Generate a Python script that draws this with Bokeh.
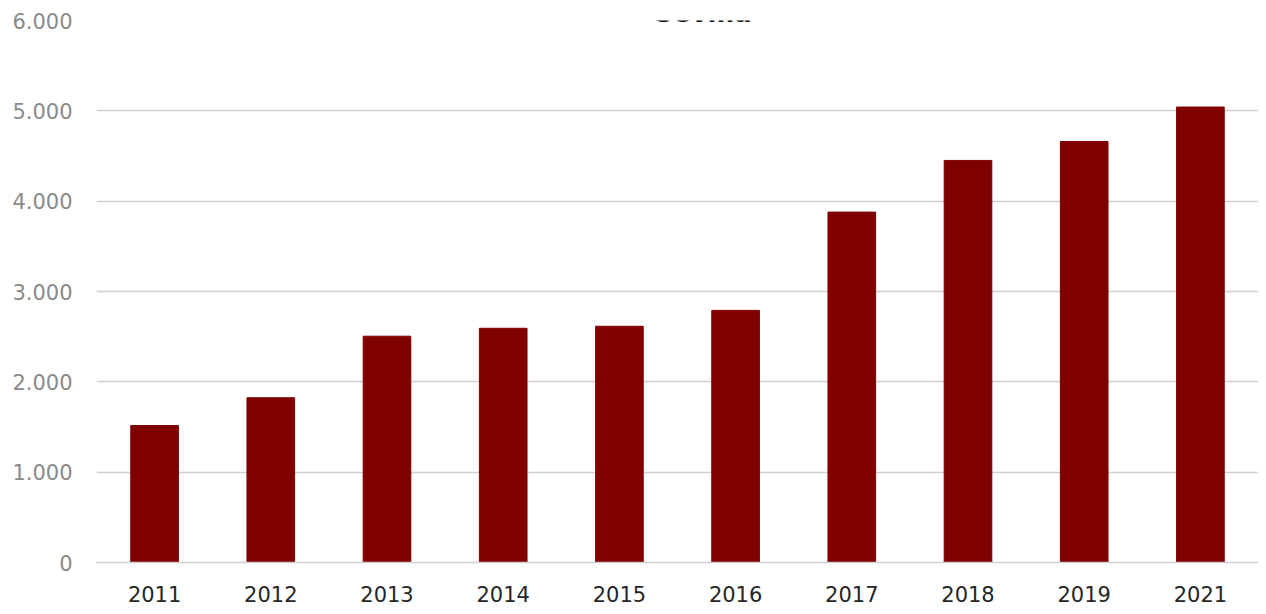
from bokeh.plotting import figure
from bokeh.models import FactorRange, Range1d, FixedTicker, CustomJSTickFormatter, Label
from bokeh.embed import file_html
from bokeh.resources import INLINE

title_text = "Sevilla"
years = ["2011", "2012", "2013", "2014", "2015", "2016", "2017", "2018", "2019", "2021"]
values = [1516, 1824, 2505, 2593, 2615, 2791, 3879, 4451, 4661, 5042]
y_ticks = [0, 1000, 2000, 3000, 4000, 5000, 6000]

p = figure(width=1258, height=606, output_backend="svg", toolbar_location=None,
           x_range=FactorRange(*years, range_padding=0), y_range=Range1d(0, 6000),
           min_border_left=96, min_border_right=0, min_border_top=20, min_border_bottom=44)
p.outline_line_color = None
p.background_fill_color = "white"
p.border_fill_color = "white"

p.vbar(x=years, top=values, width=0.41, color="#800000")

p.xgrid.grid_line_color = None
p.ygrid.grid_line_color = "#d0d0d0"
p.ygrid.grid_line_width = 1.5
p.yaxis.ticker = FixedTicker(ticks=y_ticks)
p.yaxis.formatter = CustomJSTickFormatter(code="return String(tick).replace(/\\B(?=(\\d{3})+(?!\\d))/g, '.');")
p.yaxis.axis_line_color = None
p.yaxis.major_tick_line_color = None
p.yaxis.minor_tick_line_color = None
p.yaxis.major_label_standoff = 18
p.yaxis.major_label_text_font = "DejaVu Sans"
p.yaxis.major_label_text_font_size = "21px"
p.yaxis.major_label_text_color = "#8a8a8a"

p.xaxis.axis_line_color = "#d0d0d0"
p.xaxis.axis_line_width = 1.5
p.xaxis.major_tick_line_color = None
p.xaxis.minor_tick_line_color = None
p.xaxis.major_label_standoff = 17
p.xaxis.major_label_text_font = "DejaVu Sans"
p.xaxis.major_label_text_font_size = "21px"
p.xaxis.major_label_text_color = "#262626"

lbl = Label(x=5.22, y=6000, y_offset=8, text=title_text, text_align="center",
            text_baseline="alphabetic", text_font="DejaVu Sans", text_font_style="bold",
            text_font_size="26px", text_color="#111111")
p.add_layout(lbl)

open("out.html", "w").write(file_html(p, INLINE))
